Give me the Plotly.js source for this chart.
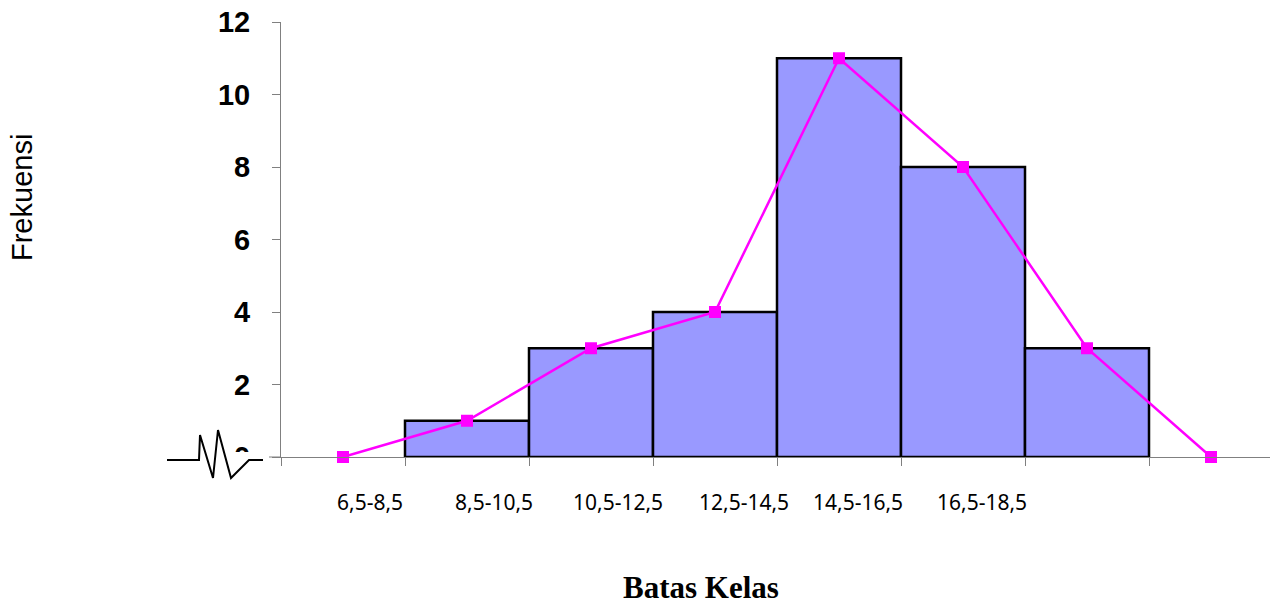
<!DOCTYPE html>
<html>
<head>
<meta charset="utf-8">
<script src="https://cdn.plot.ly/plotly-3.0.1.min.js"></script>
<style>html,body{margin:0;padding:0;background:#fff;}#chart{width:1270px;height:606px;}</style>
</head>
<body>
<div id="chart"></div>
<script>
// ---- data ----
var classLabels = ["6,5-8,5", "8,5-10,5", "10,5-12,5", "12,5-14,5", "14,5-16,5", "16,5-18,5"];
var barCenters = [1.5, 2.5, 3.5, 4.5, 5.5, 6.5];
var barFreq = [1, 3, 4, 11, 8, 3];
var polyX = [0.5, 1.5, 2.5, 3.5, 4.5, 5.5, 6.5, 7.5];
var polyY = [0, 1, 3, 4, 11, 8, 3, 0];
var yTicks = [0, 2, 4, 6, 8, 10, 12];
var boundaryTicks = [0, 1, 2, 3, 4, 5, 6, 7];
// label positions (in category units) as placed in the original
var labelPos = [0.72, 1.72, 2.72, 3.73, 4.65, 5.65];

// ---- layout geometry helpers (pixels -> paper) ----
var L = 281, R = 1270, T = 22, B = 457;
function px(x) { return (x - L) / (R - L); }
function py(y) { return (B - y) / (B - T); }

var traces = [
  {
    type: 'bar', x: barCenters, y: barFreq, width: 1,
    marker: {color: '#9999FF', line: {color: '#000000', width: 2.5}},
    hoverinfo: 'skip', showlegend: false
  },
  {
    type: 'scatter', mode: 'lines+markers', x: polyX, y: polyY,
    line: {color: '#FF00FF', width: 2.5},
    marker: {color: '#FF00FF', symbol: 'square', size: 12},
    cliponaxis: false, showlegend: false, hoverinfo: 'skip'
  }
];

var annotations = classLabels.map(function (t, i) {
  return {
    text: t, x: labelPos[i], xref: 'x', y: py(502), yref: 'paper',
    showarrow: false, xanchor: 'center', yanchor: 'middle',
    font: {family: 'Noto Sans, Liberation Sans, sans-serif', size: 21, color: '#000'}
  };
});
annotations.push({
  text: 'Frekuensi', x: px(22), xref: 'paper', y: py(198), yref: 'paper',
  textangle: -90, showarrow: false, xanchor: 'center', yanchor: 'middle',
  font: {family: 'Liberation Sans, Arial, sans-serif', size: 29, color: '#000'}
});
annotations.push({
  text: '<b>Batas Kelas</b>', x: px(701), xref: 'paper', y: py(587), yref: 'paper',
  showarrow: false, xanchor: 'center', yanchor: 'middle', borderpad: 0,
  font: {family: 'Liberation Serif, Times New Roman, serif', size: 31, color: '#000'}
});

function pathFrom(pts) {
  return pts.map(function (p, i) { return (i ? 'L' : 'M') + px(p[0]) + ',' + py(p[1]); }).join(' ');
}

var shapes = [
  // mask over lower part of the "0" label
  {type: 'rect', xref: 'paper', yref: 'paper', x0: px(226), x1: px(267), y0: py(480), y1: py(452),
   fillcolor: '#FFFFFF', line: {width: 0}, layer: 'above'},
  // x axis line extension to the left of the y axis
  {type: 'line', xref: 'paper', yref: 'paper', x0: px(269), x1: px(281), y0: 0, y1: 0,
   line: {color: '#808080', width: 1}, layer: 'above'},
  // axis break symbol
  {type: 'path', xref: 'paper', yref: 'paper',
   path: pathFrom([[167, 460], [199, 460], [200, 435], [213, 478], [218, 430], [231, 478], [249, 460], [263, 460]]),
   line: {color: '#000000', width: 2}, layer: 'above'}
];

var layout = {
  width: 1270, height: 606,
  margin: {l: L, r: 1270 - R, t: T, b: 606 - B, pad: 0},
  paper_bgcolor: '#FFFFFF', plot_bgcolor: '#FFFFFF',
  bargap: 0,
  xaxis: {
    range: [0, (R - L) / 124], tickvals: boundaryTicks, showticklabels: false,
    ticks: 'outside', ticklen: 8, tickcolor: '#808080', tickwidth: 1,
    showline: true, linecolor: '#808080', linewidth: 1,
    showgrid: false, zeroline: false, fixedrange: true
  },
  yaxis: {
    range: [0, 12], tickvals: yTicks,
    ticks: 'outside', ticklen: 8, tickcolor: '#808080', tickwidth: 1,
    showline: true, linecolor: '#808080', linewidth: 1,
    showgrid: false, zeroline: false, fixedrange: true,
    ticklabelstandoff: 16,
    tickfont: {family: 'Liberation Sans, Arial, sans-serif', size: 29, color: '#000', weight: 'bold'}
  },
  annotations: annotations,
  shapes: shapes,
  showlegend: false
};

Plotly.newPlot('chart', traces, layout, {staticPlot: true, displayModeBar: false});
</script>
</body>
</html>
